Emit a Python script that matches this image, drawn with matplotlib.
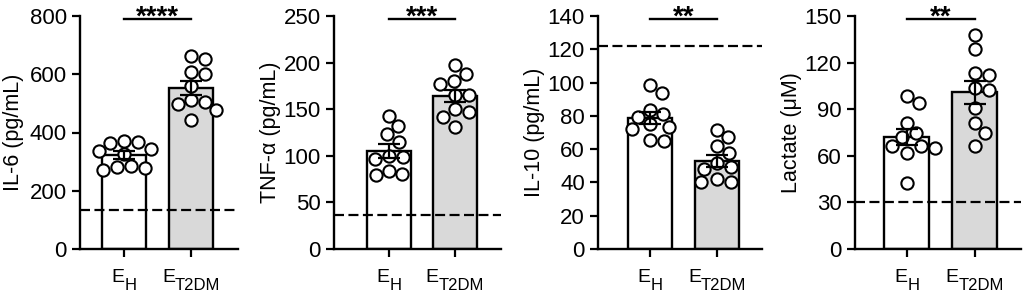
import numpy as np
import matplotlib
matplotlib.use('Agg')
import matplotlib.pyplot as plt
from matplotlib.transforms import blended_transform_factory, offset_copy

plt.rcParams['font.family'] = ['Liberation Sans', 'DejaVu Sans']

# groups (subscript of "E")
groups = ['H', 'T2DM']

# individual values
il6_h = [372, 366, 365, 345, 338, 325, 285, 283, 278, 272]
il6_t2dm = [662, 654, 609, 600, 560, 511, 506, 498, 477, 443]
tnf_h = [143, 132, 123, 115, 100, 99, 97, 84, 80, 79]
tnf_t2dm = [197, 188, 180, 177, 165, 165, 150, 147, 142, 131]
il10_h = [98.6, 94, 83.5, 81, 79.5, 75, 73.5, 72, 65.5, 65]
il10_t2dm = [71.8, 67, 61.8, 57.4, 51.4, 49.3, 48.3, 42.3, 40.3, 40.3]
lac_h = [98.5, 94.2, 81, 74.5, 72.3, 66.3, 66.3, 64.8, 61.6, 42.3]
lac_t2dm = [137.8, 129, 113.5, 112, 103.4, 102.3, 90.5, 80.8, 74.4, 66.2]

ylabels = ['IL-6 (pg/mL)', 'TNF-α (pg/mL)', 'IL-10 (pg/mL)', 'Lactate (μM)']
ymax = [800, 250, 140, 150]
ystep = [200, 50, 20, 30]
ref_line = [133, 36, 122, 30.5]
stars = ['****', '***', '**', '**']

panels = [
    (il6_h, il6_t2dm),
    (tnf_h, tnf_t2dm),
    (il10_h, il10_t2dm),
    (lac_h, lac_t2dm),
]

W, H = 1024, 293
# axes placement in pixels: left spine, right end; top / bottom shared
ax_px = [(80, 238), (334, 501), (598, 762), (855, 1021)]
xlims = [(-0.66, 1.70), (-0.83, 1.70), (-0.78, 1.67), (-0.76, 1.68)]
label_pads = [4, 1.5, 1.5, 1.5]
top_px, bot_px = 16, 249

bar_colors = ['white', '#d9d9d9']
SPACING = 13.5  # min centre distance between circles, px


def swarm_offsets(ax, x0, vals, diam):
    """Beeswarm-ish x offsets (data units) so that circles don't overlap."""
    vals = np.asarray(vals, dtype=float)
    pts = ax.transData.transform(np.column_stack([np.full(len(vals), x0), vals]))
    px_per_x = ax.transData.transform((1, 0))[0] - ax.transData.transform((0, 0))[0]

    def candidates():
        yield 0
        for k in range(1, 400):
            yield k
            yield -k

    placed = []
    out = np.zeros(len(vals))
    for i in np.argsort(vals)[::-1]:
        py = pts[i, 1]
        for dx in candidates():
            if all((dx - qx) ** 2 + (py - qy) ** 2 >= diam ** 2 for qx, qy in placed):
                break
        placed.append((dx, py))
        out[i] = dx / px_per_x
    return out


fig = plt.figure(figsize=(W / 100, H / 100), dpi=100)
renderer = fig.canvas.get_renderer()

for p, (h_vals, t_vals) in enumerate(panels):
    l, r = ax_px[p]
    ax = fig.add_axes([l / W, 1 - bot_px / H, (r - l) / W, (bot_px - top_px) / H])
    ax.set_xlim(*xlims[p])
    ax.set_ylim(0, ymax[p])

    for i, vals in enumerate((h_vals, t_vals)):
        vals = np.asarray(vals, dtype=float)
        m = vals.mean()
        sem = vals.std(ddof=1) / np.sqrt(len(vals))
        ax.bar(i, m, width=0.66, color=bar_colors[i], edgecolor='black',
               linewidth=1.7, zorder=1)
        offs = swarm_offsets(ax, i, vals, SPACING)
        ax.scatter(i + offs, vals, s=78, facecolor='white', edgecolor='black',
                   linewidth=1.5, zorder=3, clip_on=False)
        ax.errorbar(i, m, yerr=sem, color='black', capsize=8, capthick=1.6,
                    elinewidth=1.6, zorder=4)

    ax.axhline(ref_line[p], color='black', linewidth=1.6, dashes=(4.5, 2), zorder=5)

    # significance bar
    trans = blended_transform_factory(ax.transData, ax.transAxes)
    ax.plot([0, 1], [0.985, 0.985], color='black', linewidth=1.7, transform=trans,
            clip_on=False)
    ax.text(0.5, 0.985, stars[p], transform=offset_copy(trans, fig, y=-4, units='points'),
            ha='center', va='baseline', fontsize=20, fontweight='bold')

    ax.spines['top'].set_visible(False)
    ax.spines['right'].set_visible(False)
    for s in ('left', 'bottom'):
        ax.spines[s].set_linewidth(1.7)
    ax.set_yticks(np.arange(0, ymax[p] + 1, ystep[p]))
    ax.tick_params(axis='both', length=6, width=1.6, labelsize=16)
    ax.set_ylabel(ylabels[p], fontsize=15.5, labelpad=label_pads[p])

    # x labels: E with a subscript group name
    ax.set_xticks([0, 1])
    ax.set_xticklabels(['', ''])
    for i, g in enumerate(groups):
        tE = ax.text(i, 0, 'E', fontsize=14, ha='left', va='baseline', transform=trans)
        tS = ax.text(i, 0, g, fontsize=12, ha='left', va='baseline', transform=trans)
        wE = tE.get_window_extent(renderer).width
        wS = tS.get_window_extent(renderer).width
        start = -(wE + wS) / 2
        tE.set_transform(offset_copy(trans, fig, x=start, y=-33, units='dots'))
        tS.set_transform(offset_copy(trans, fig, x=start + wE, y=-41, units='dots'))

fig.savefig('out.png', dpi=100)
